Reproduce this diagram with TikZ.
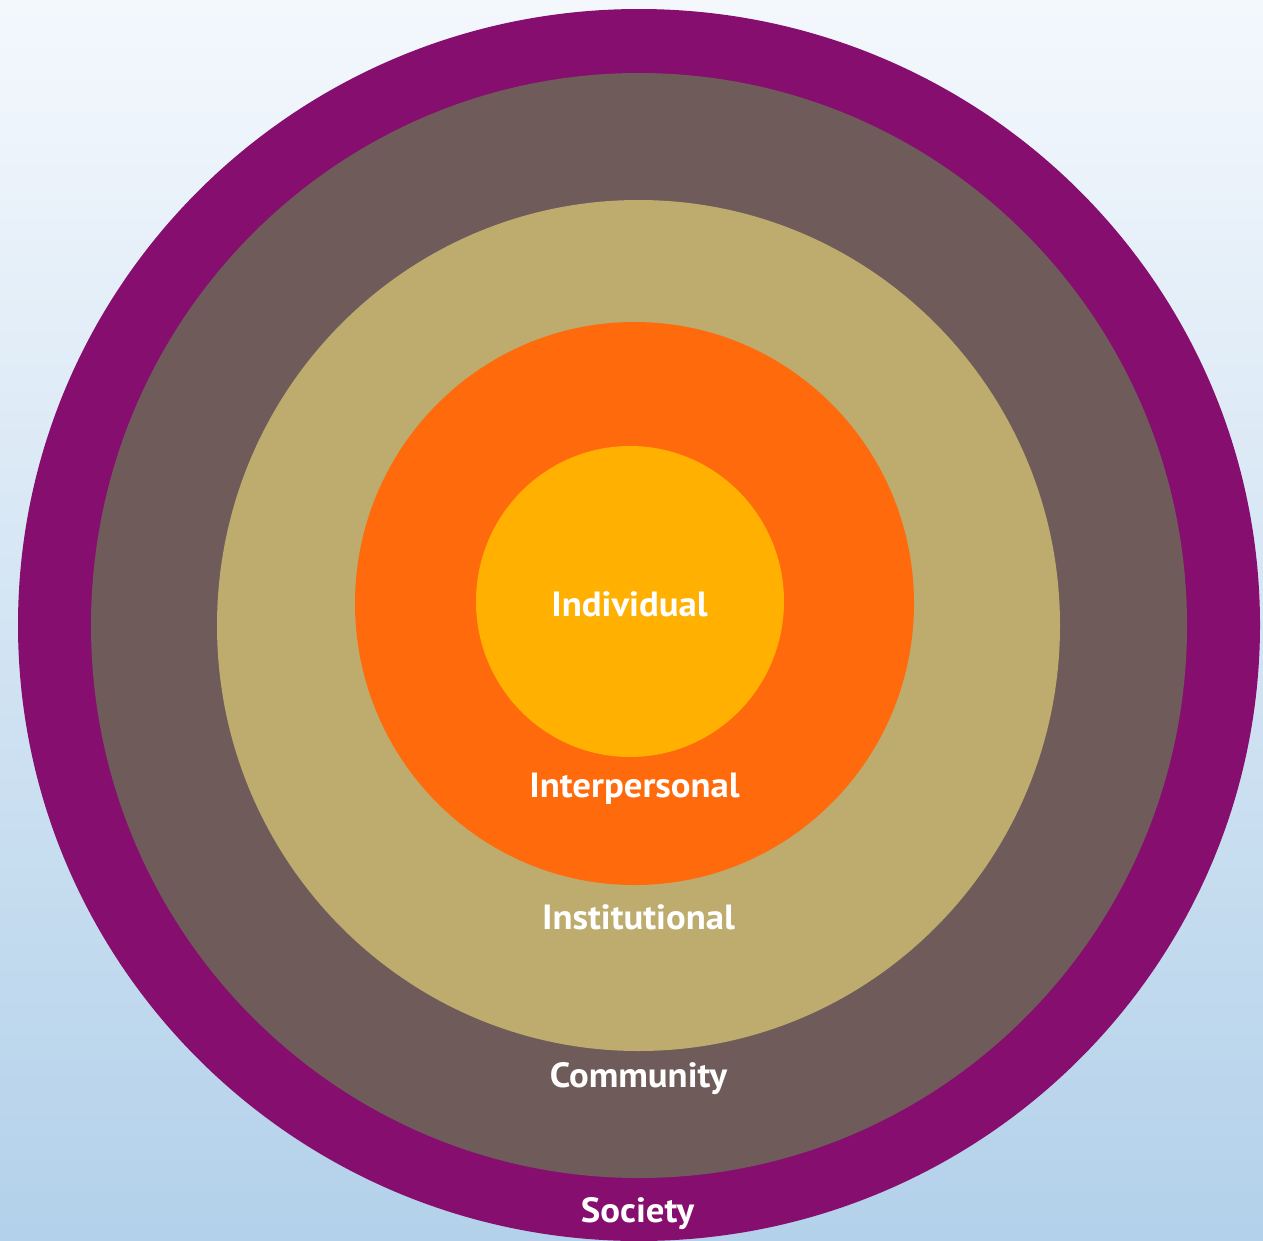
\documentclass[tikz,border=0pt]{standalone}
\usepackage{fontspec}
\setmainfont{PT Sans}[FakeStretch=1.05]
\definecolor{bgtop}{HTML}{F4F8FD}
\definecolor{bgbot}{HTML}{B3D1EA}
\definecolor{cSociety}{HTML}{850E6E}
\definecolor{cCommunity}{HTML}{6F5C5A}
\definecolor{cInstitutional}{HTML}{BDAC6E}
\definecolor{cInterpersonal}{HTML}{FF6A0C}
\definecolor{cIndividual}{HTML}{FFB000}
\tikzset{
  ring/.style={draw=none},
  lbl/.style={text=white, font=\fontsize{35}{40}\selectfont\bfseries, anchor=base, inner sep=0pt}
}
\begin{document}
\begin{tikzpicture}[x=1pt,y=-1pt]
  \useasboundingbox (0,0) rectangle (1263,1240);
  \clip (0,0) rectangle (1263,1240);
  \shade[top color=bgtop, bottom color=bgbot] (0,0) rectangle (1263,1240);
  \fill[ring, cSociety] (639,625) ellipse [x radius=621, y radius=616];
  \fill[ring, cCommunity] (639,625.5) ellipse [x radius=548, y radius=552.5];
  \fill[ring, cInstitutional] (638.5,625.5) ellipse [x radius=421.5, y radius=425.5];
  \fill[ring, cInterpersonal] (634.5,603.5) ellipse [x radius=279.5, y radius=281.5];
  \fill[ring, cIndividual] (630,601.5) ellipse [x radius=154, y radius=155.5];
  \node[lbl] (individual) at (629.5,616) {Individual};
  \node[lbl] (interpersonal) at (634.5,797) {Interpersonal};
  \node[lbl] (institutional) at (638.5,929.5) {Institutional};
  \node[lbl] (community) at (638.5,1087.5) {Community};
  \node[lbl] (society) at (637.5,1222.5) {Society};
\end{tikzpicture}
\end{document}
